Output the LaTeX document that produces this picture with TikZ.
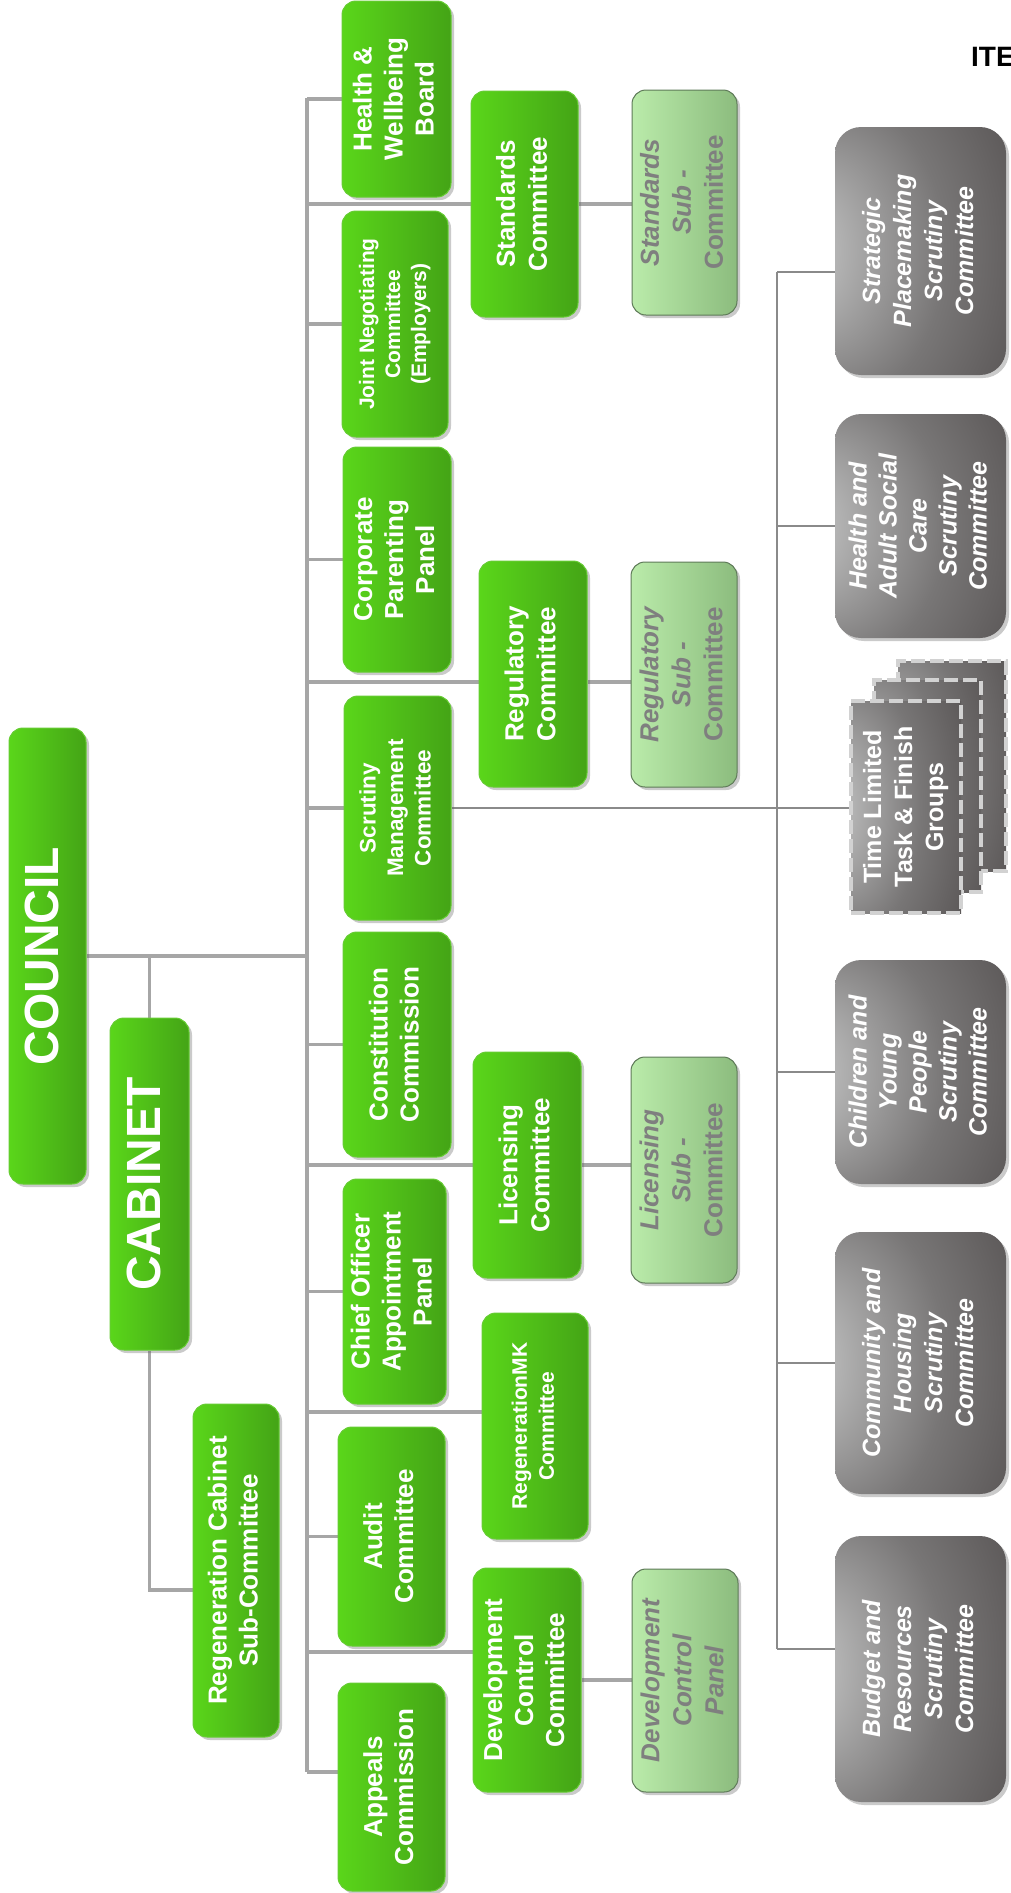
\documentclass[tikz,border=0pt]{standalone}
\usepackage{fontspec}
\setmainfont{Liberation Sans}
\usetikzlibrary{shadows,calc}
\definecolor{gL}{HTML}{5AD61A}
\definecolor{gR}{HTML}{44A416}
\definecolor{gBorder}{HTML}{66CC33}
\definecolor{lgL}{HTML}{BAEBAA}
\definecolor{lgR}{HTML}{8CBC7E}
\definecolor{lgBorder}{HTML}{5E7A58}
\definecolor{subText}{HTML}{7F7F7F}
\definecolor{busc}{HTML}{A6A6A6}
\definecolor{scrc}{HTML}{8A8A8A}
\definecolor{grA}{HTML}{CFCFCF}
\definecolor{grA2}{HTML}{B2B2B2}
\definecolor{grB}{HTML}{787676}
\definecolor{grC}{HTML}{565252}
\definecolor{grD}{HTML}{484444}
\definecolor{sheetBorder}{HTML}{D2D2D2}
\pgfdeclareradialshading{grayglow}{\pgfpoint{-40bp}{0bp}}{color(0bp)=(grA); color(10bp)=(grA2); color(30bp)=(grB); color(50bp)=(grC); color(70bp)=(grD)}
\pgfdeclarelayer{bg}
\pgfsetlayers{bg,main}
\newcommand{\rottext}[3]{\rotatebox{90}{\fontsize{#1}{#2}\selectfont\begin{tabular}{@{}c@{}}#3\end{tabular}}}
\tikzset{
  myshadow/.style={drop shadow={shadow xshift=3pt, shadow yshift=-3pt, opacity=0.35, fill=black!60}},
  greenbox/.style={draw=gBorder, line width=1pt, rounded corners=14pt, left color=gL, right color=gR, text=white, font=\bfseries, inner sep=0pt, myshadow},
  subbox/.style={draw=lgBorder, line width=1pt, rounded corners=14pt, left color=lgL, right color=lgR, text=subText, font=\bfseries, inner sep=0pt, myshadow},
  graybox/.style={rounded corners=26pt, shade, shading=grayglow, text=white, font=\bfseries\itshape, inner sep=0pt, myshadow},
  sheet/.style={draw=sheetBorder, line width=3.5pt, dash pattern=on 14pt off 5pt, shade, shading=grayglow, text=white, font=\bfseries, inner sep=0pt},
  busline/.style={draw=busc, line width=3.5pt},
  scrline/.style={draw=scrc, line width=2pt},
  sz/.style n args={2}{minimum width=#1pt, minimum height=#2pt},
}
\begin{document}
\begin{tikzpicture}[x=1pt, y=-1pt]
\useasboundingbox (0,0) rectangle (1010,1893);
\clip (0,0) rectangle (1010,1893);
% top level
\node[greenbox, sz={77}{456}] (council) at (47.5,956) {\rottext{48}{56}{COUNCIL}};
\node[greenbox, sz={79}{332}] (cabinet) at (149.5,1184) {\rottext{48}{56}{CABINET}};
\node[greenbox, sz={86}{333}] (regcab) at (236,1570.5) {\rottext{26}{31}{Regeneration Cabinet\\Sub-Committee}};
% column 1
\node[greenbox, sz={109}{196}] (hw) at (396.5,99) {\rottext{26}{31}{Health \&\\Wellbeing\\Board}};
\node[greenbox, sz={106}{226}] (jnc) at (395,324) {\rottext{21}{26}{Joint Negotiating\\Committee\\(Employers)}};
\node[greenbox, sz={108}{225}] (cpp) at (397,559.5) {\rottext{26}{31}{Corporate\\Parenting\\Panel}};
\node[greenbox, sz={107}{224}] (smc) at (397.5,808) {\rottext{22.5}{27.5}{Scrutiny\\Management\\Committee}};
\node[greenbox, sz={108}{225}] (cc) at (397,1044.5) {\rottext{26}{31}{Constitution\\Commission}};
\node[greenbox, sz={103}{225}] (coap) at (394.5,1291.5) {\rottext{26}{31}{Chief Officer\\Appointment\\Panel}};
\node[greenbox, sz={107}{219}] (audit) at (391.5,1536.5) {\rottext{26}{31}{Audit\\Committee}};
\node[greenbox, sz={107}{208}] (appeals) at (391.5,1787) {\rottext{26}{31}{Appeals\\Commission}};
% column 2
\node[greenbox, sz={107}{226}] (std) at (524.5,204) {\rottext{26}{32}{Standards\\Committee}};
\node[greenbox, sz={108}{226}] (reg) at (533,674) {\rottext{26}{32}{Regulatory\\Committee}};
\node[greenbox, sz={108}{226}] (lic) at (527,1165) {\rottext{26}{32}{Licensing\\Committee}};
\node[greenbox, sz={106}{226}] (rmk) at (535,1426) {\rottext{21}{27}{RegenerationMK\\Committee}};
\node[greenbox, sz={108}{224}] (dcc) at (527,1680) {\rottext{26}{31}{Development\\Control\\Committee}};
% sub committees
\node[subbox, sz={105}{225}] (stdsub) at (684.5,202.5) {\rottext{26}{32}{\itshape Standards\\\itshape Sub -\\Committee}};
\node[subbox, sz={106}{225}] (regsub) at (684,674.5) {\rottext{26}{32}{\itshape Regulatory\\\itshape Sub -\\Committee}};
\node[subbox, sz={106}{226}] (licsub) at (684,1170) {\rottext{26}{32}{\itshape Licensing\\\itshape Sub -\\Committee}};
\node[subbox, sz={106}{223}] (dcp) at (685,1680.5) {\rottext{26}{32}{\itshape Development\\\itshape Control\\\itshape Panel}};
% scrutiny committees
\node[graybox, sz={171}{248}] (spsc) at (920.5,251) {\rottext{25}{31}{Strategic\\Placemaking\\Scrutiny\\Committee}};
\node[graybox, sz={171}{224}] (hasc) at (920.5,526) {\rottext{25}{30}{Health and\\Adult Social\\Care\\Scrutiny\\Committee}};
\node[sheet, sz={108}{210}] (tlback) at (952,766) {};
\node[sheet, sz={107}{212}] (tlmid) at (927.5,786) {};
\node[sheet, sz={110}{212}] (tlfront) at (906,807) {\rottext{25}{31}{Time Limited\\Task \& Finish\\Groups}};
\node[graybox, sz={171}{224}] (cyp) at (920.5,1072) {\rottext{25}{30}{Children and\\Young\\People\\Scrutiny\\Committee}};
\node[graybox, sz={171}{262}] (chsc) at (920.5,1363) {\rottext{25}{31}{Community and\\Housing\\Scrutiny\\Committee}};
\node[graybox, sz={171}{266}] (brsc) at (920.5,1669) {\rottext{25}{31}{Budget and\\Resources\\Scrutiny\\Committee}};
% heading
\node[anchor=base west, inner sep=0pt, font=\bfseries\fontsize{28}{30}\selectfont] (item) at (971,66) {ITE};
% connectors
\coordinate (bt) at (307,98);
\coordinate (bb) at (307,1772);
\coordinate (st) at (777,272);
\coordinate (sb) at (777,1649);
\begin{pgfonlayer}{bg}
\draw[busline] (bt) -- (bb);
\draw[busline] (council.east) -- (council.east -| bt);
\draw[busline] (cabinet.north) -- (cabinet.north |- council.east);
\draw[busline] (cabinet.south) |- ([yshift=-19.5pt]regcab.west);
\foreach \n in {hw,jnc,cpp,smc,cc,coap,audit} {\draw[busline] (\n.west -| bt) -- (\n.west);}
\draw[busline] (bb) -- (bb -| appeals.west);
\draw[busline] (std.west -| bt) -- (std.west);
\draw[busline] ([yshift=-8pt]reg.west -| bt) -- ([yshift=-8pt]reg.west);
\draw[busline] (lic.west -| bt) -- (lic.west);
\draw[busline] ([yshift=14pt]rmk.west -| bt) -- ([yshift=14pt]rmk.west);
\draw[busline] ([yshift=28pt]dcc.west -| bt) -- ([yshift=28pt]dcc.west);
\draw[busline] (std.east) -- (std.east -| stdsub.west);
\draw[busline] ([yshift=-8pt]reg.east) -- ([yshift=-8pt]reg.east -| regsub.west);
\draw[busline] (lic.east) -- (lic.east -| licsub.west);
\draw[busline] (dcc.east) -- (dcc.east -| dcp.west);
\draw[scrline] (smc.east) -- (smc.east -| tlfront.west);
\draw[scrline] (st) -- (sb);
\draw[scrline] (st) -- (st -| spsc.west);
\draw[scrline] (hasc.west -| st) -- (hasc.west);
\draw[scrline] (cyp.west -| st) -- (cyp.west);
\draw[scrline] (chsc.west -| st) -- (chsc.west);
\draw[scrline] (sb) -- (sb -| brsc.west);
\end{pgfonlayer}
\end{tikzpicture}
\end{document}
